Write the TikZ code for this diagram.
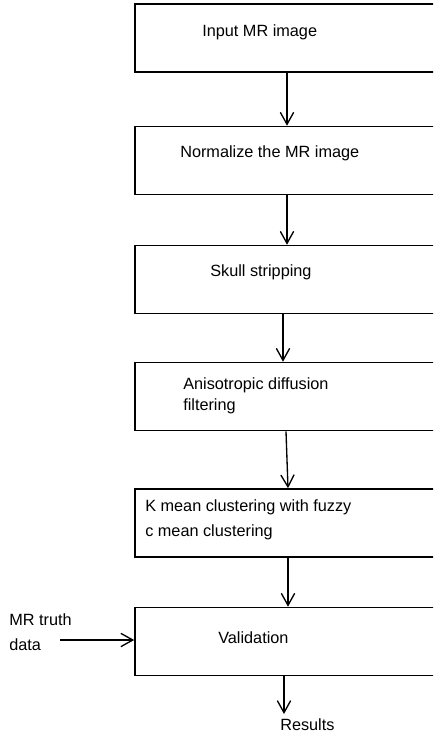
\documentclass[tikz,border=0pt]{standalone}
\usepackage{fontspec}
\setmainfont{Liberation Sans}
\usepackage{tikz}
\usetikzlibrary{positioning}
\usetikzlibrary{arrows.meta}

\tikzset{
  stagebox/.style={draw, line width=1.2pt, minimum width=304*0.75pt, minimum height=68*0.75pt, inner sep=0pt},
  stagetext/.style={anchor=west, inner sep=0pt, align=left, font=\fontsize{12.2}{15.75}\selectfont},
  flow/.style={line width=1pt, -{Straight Barb[length=9pt, width=10pt, line width=1pt]}}
}

\begin{document}
\begin{tikzpicture}[x=0.75pt, y=-0.75pt]
\useasboundingbox (0,0) rectangle (433,736);
\clip (0,0) rectangle (433,736);
% boxes
\node[stagebox] (input) at (287,38) {};
\node[stagebox] (norm) at (287,160.5) {};
\node[stagebox] (skull) at (287,279.5) {};
\node[stagebox] (aniso) at (287,396.5) {};
\node[stagebox] (kmean) at (287,523) {};
\node[stagebox] (valid) at (287,641.5) {};
% texts in the boxes
\node[stagetext] (inputtxt) at (202,32) {Input MR image};
\node[stagetext] (normtxt) at (180,153) {Normalize the MR image};
\node[stagetext] (skulltxt) at (210,272) {Skull stripping};
\node[stagetext] (anisotxt) at (183,396) {Anisotropic diffusion\\filtering};
\node[stagetext] (kmeantxt) at (145,520) {K mean clustering with fuzzy\\[3pt]c mean clustering};
\node[stagetext] (validtxt) at (218,638) {Validation};
% outside texts
\node[stagetext, font=\fontsize{12.2}{18.75}\selectfont] (truth) at (9,632) {MR truth\\data};
\node[stagetext] (res) at (280,725) {Results};
\coordinate (truthend) at (60,640);
\coordinate (resend) at (284,714);
% arrows
\draw[flow] (input.south) -- (norm.north);
\draw[flow] (norm.south) -- (skull.north);
\draw[flow] ([xshift=-3pt]skull.south) -- ([xshift=-3pt]aniso.north);
\draw[flow] ([xshift=-0.75pt]aniso.south) -- ([xshift=0.75pt]kmean.north);
\draw[flow] ([xshift=0.75pt]kmean.south) -- ([xshift=0.75pt]valid.north);
\draw[flow] ([xshift=-2.25pt]valid.south) -- (resend);
\draw[flow] (truthend) -- (truthend -| valid.west);
\end{tikzpicture}
\end{document}
